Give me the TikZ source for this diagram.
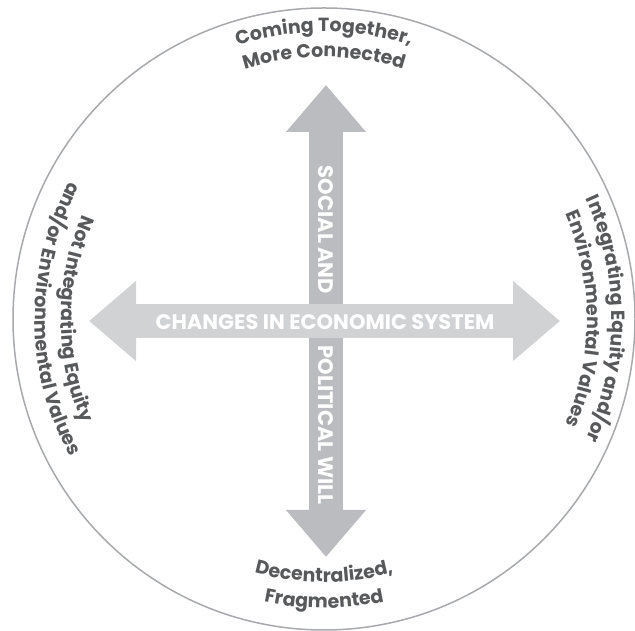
\documentclass[tikz,border=0pt]{standalone}
\usepackage{fontspec}
\setmainfont{Poppins}
\usepackage{xcolor}
\usetikzlibrary{arrows.meta,decorations.text}

\definecolor{ringgray}{HTML}{A7A9AC}
\definecolor{labelgray}{HTML}{58595B}
\definecolor{socialgray}{HTML}{BBBCBF}
\definecolor{economygray}{HTML}{D1D2D4}

\newcommand{\arcfont}{\color{labelgray}\bfseries\fontsize{19}{19}\selectfont}

\tikzset{
  bigarrow/.style={line width=34pt,
    {Triangle[length=47pt,width=77pt]}-{Triangle[length=47pt,width=77pt]}},
  arrowtext/.style={text=white, inner sep=0pt,
    font=\bfseries\fontsize{21}{21}\selectfont},
  arctext/.style={decorate, decoration={text along path, text align=center}}
}

\begin{document}
\begin{tikzpicture}[x=1pt,y=1pt]
  \path[fill=white] (0,0) rectangle (635,631);
  \useasboundingbox (0,0) rectangle (635,631);

  % outer ring
  \node[circle, draw=ringgray, line width=1.5pt, minimum size=622pt, inner sep=0pt] (ring) at (324,312) {};

  % arrow ends
  \coordinate (top) at (326,546);
  \coordinate (bottom) at (326,74);
  \coordinate (left) at (89,310);
  \coordinate (right) at (560,310);

  % social and political will
  \draw[bigarrow, socialgray] (top) -- (bottom);
  \node[arrowtext, rotate=-90] (social) at (326,401) {SOCIAL AND};
  \node[arrowtext, rotate=-90] (political) at (326,206) {POLITICAL WILL};

  % economic system
  \draw[bigarrow, economygray] (left) -- (right);
  \node[arrowtext] (economy) at (325,309) {CHANGES IN ECONOMIC SYSTEM};

  % labels round the ring
  \path[arctext, decoration={text={|\arcfont|Coming Together,}}]
    ([shift={(160:287)}]ring.center) arc[start angle=160, end angle=20, radius=287];
  \path[arctext, decoration={text={|\arcfont|More Connected}}]
    ([shift={(160:262)}]ring.center) arc[start angle=160, end angle=20, radius=262];

  \path[arctext, decoration={text={|\arcfont|Integrating Equity and/or}}]
    ([shift={(70:288)}]ring.center) arc[start angle=70, end angle=-70, radius=288];
  \path[arctext, decoration={text={|\arcfont|Environmental Values}}]
    ([shift={(70:263)}]ring.center) arc[start angle=70, end angle=-70, radius=263];

  \path[arctext, decoration={text={|\arcfont|Decentralized,}}]
    ([shift={(200:263)}]ring.center) arc[start angle=200, end angle=340, radius=263];
  \path[arctext, decoration={text={|\arcfont|Fragmented}}]
    ([shift={(200:289)}]ring.center) arc[start angle=200, end angle=340, radius=289];

  \path[arctext, decoration={text={|\arcfont|Not Integrating Equity}}]
    ([shift={(110:263)}]ring.center) arc[start angle=110, end angle=250, radius=263];
  \path[arctext, decoration={text={|\arcfont|and/or Environmental Values}}]
    ([shift={(110:289)}]ring.center) arc[start angle=110, end angle=250, radius=289];
\end{tikzpicture}
\end{document}
